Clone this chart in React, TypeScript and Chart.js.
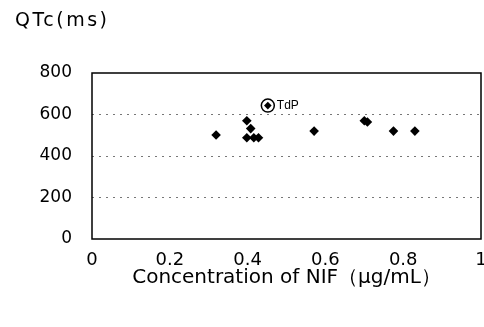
import { useEffect, useRef } from 'react';
import { Chart, registerables } from 'chart.js';

Chart.register(...registerables);

const concentrations = [0.319, 0.398, 0.408, 0.398, 0.416, 0.428, 0.571, 0.700, 0.708, 0.775, 0.830];
const qtcValues = [501, 570, 532, 488, 488, 488, 520, 570, 564, 520, 520];
const tdpConcentration = [0.452];
const tdpQtc = [643];
const tdpLabel = 'TdP';
const yAxisTitle = 'QTc(ms)';
const xAxisTitle = 'Concentration of NIF（μg/mL）';
const xRange = [0, 1];
const yRange = [0, 800];
const xStep = 0.2;
const yStep = 200;

export default function App() {
  const ref = useRef<HTMLCanvasElement | null>(null);

  useEffect(() => {
    document.body.style.margin = '0';
    const canvas = ref.current;
    if (!canvas) return;

    const framePlugin = {
      id: 'frame',
      afterDatasetsDraw(chart: any) {
        const { ctx, chartArea } = chart;
        ctx.save();
        ctx.strokeStyle = '#000';
        ctx.lineWidth = 1.5;
        ctx.strokeRect(chartArea.left, chartArea.top, chartArea.right - chartArea.left, chartArea.bottom - chartArea.top);
        // TdP label
        const px = chart.scales.x.getPixelForValue(tdpConcentration[0]);
        const py = chart.scales.y.getPixelForValue(tdpQtc[0]);
        ctx.fillStyle = '#000';
        ctx.font = '12px "Liberation Sans"';
        ctx.textBaseline = 'middle';
        ctx.textAlign = 'left';
        ctx.fillText(tdpLabel, px + 9, py);
        // y-axis title
        ctx.font = '19px "DejaVu Sans"';
        ctx.textBaseline = 'top';
        (ctx as any).letterSpacing = '2.5px';
        ctx.fillText(yAxisTitle, 15, 12);
        ctx.restore();
      },
    };

    const chart = new Chart(canvas, {
      type: 'scatter',
      data: {
        datasets: [
          {
            data: concentrations.map((c, i) => ({ x: c, y: qtcValues[i] })),
            pointStyle: 'rectRot',
            pointRadius: 4.8,
            backgroundColor: '#000',
            borderColor: '#000',
            borderWidth: 0,
          },
          {
            data: tdpConcentration.map((c, i) => ({ x: c, y: tdpQtc[i] })),
            pointStyle: 'rectRot',
            pointRadius: 3.8,
            backgroundColor: '#000',
            borderColor: '#000',
            borderWidth: 0,
          },
          {
            data: tdpConcentration.map((c, i) => ({ x: c, y: tdpQtc[i] })),
            pointStyle: 'circle',
            pointRadius: 6.5,
            backgroundColor: 'rgba(0,0,0,0)',
            borderColor: '#000',
            borderWidth: 1.5,
          },
        ],
      },
      plugins: [framePlugin],
      options: {
        animation: false,
        responsive: false,
        layout: { autoPadding: false, padding: { left: 0, top: 73, right: 3, bottom: 0 } },
        plugins: {
          legend: { display: false },
          tooltip: { enabled: false },
        },
        scales: {
          x: {
            type: 'linear',
            min: xRange[0],
            max: xRange[1],
            border: { display: false },
            grid: { display: false, drawTicks: false },
            ticks: {
              stepSize: xStep,
              padding: 11,
              color: '#000',
              font: { family: '"DejaVu Sans"', size: 18 },
              callback: (v: any) => String(Math.round(Number(v) * 10) / 10),
            },
            title: {
              display: true,
              text: xAxisTitle,
              color: '#000',
              font: { family: '"DejaVu Sans"', size: 20 },
              padding: { top: 0, bottom: 37 },
            },
            afterFit: (scale: any) => {
              scale.height = 88;
              scale.paddingLeft = 0;
              scale.paddingRight = 0;
            },
          },
          y: {
            type: 'linear',
            min: yRange[0],
            max: yRange[1],
            border: { display: false, dash: [2, 5] },
            grid: {
              drawTicks: false,
              color: (c: any) => (c.tick && (c.tick.value === yRange[0] || c.tick.value === yRange[1]) ? 'rgba(0,0,0,0)' : '#777'),
              lineWidth: 1,
            },
            ticks: {
              stepSize: yStep,
              padding: 20,
              color: '#000',
              font: { family: '"DejaVu Sans"', size: 17 },
            },
            afterFit: (scale: any) => {
              scale.width = 92;
            },
          },
        },
      },
    });

    return () => chart.destroy();
  }, []);

  return (
    <div style={{ width: 484, height: 327, background: '#fff' }}>
      <canvas ref={ref} width={484} height={327} />
    </div>
  );
}
